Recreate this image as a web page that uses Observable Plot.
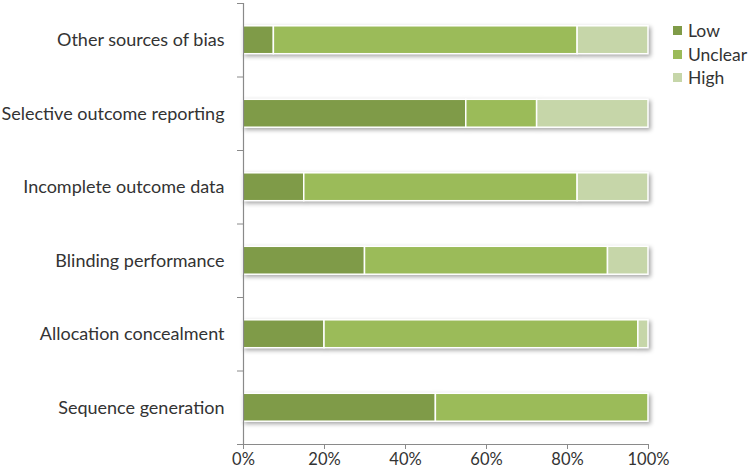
<!DOCTYPE html>
<html>
<head>
<meta charset="utf-8">
<script src="https://cdn.jsdelivr.net/npm/d3@7"></script>
<script src="https://cdn.jsdelivr.net/npm/@observablehq/plot@0.6"></script>
<style>
  body { margin: 0; background: #fff; }
  #wrap { position: relative; width: 750px; height: 473px; font-family: Lato, "Open Sans", sans-serif; }
  #legend { position: absolute; left: 673px; top: 19px; font-size: 17.5px; color: #333; line-height: 23.5px; }
  #legend .row { display: flex; align-items: center; }
  #legend .sw { width: 9px; height: 9px; margin-right: 6px; }
</style>
</head>
<body>
<div id="wrap"><div id="legend"></div></div>
<script>
const categories = ["Other sources of bias", "Selective outcome reporting", "Incomplete outcome data", "Blinding performance", "Allocation concealment", "Sequence generation"];
const risks = ["Low", "Unclear", "High"];
const low = [7.5, 55, 15, 30, 20, 47.5];
const unclear = [75, 17.5, 67.5, 60, 77.5, 52.5];
const high = [17.5, 27.5, 17.5, 10, 2.5, 0];
const xTicks = [0, 20, 40, 60, 80, 100];
const colors = ["#7f9b48", "#9bbb59", "#c6d6a9"];
const grey = "#8a8a8a";

const series = [low, unclear, high];
const rows = [];
categories.forEach((c, i) => {
  let acc = 0;
  risks.forEach((r, k) => {
    const v = series[k][i];
    rows.push({category: c, idx: i, risk: r, x1: acc, x2: acc + v});
    acc += v;
  });
});

const pad = 0.31;
const chart = Plot.plot({
  width: 750,
  height: 473,
  marginLeft: 243,
  marginRight: 102,
  marginTop: 3,
  marginBottom: 29,
  style: {fontFamily: "Lato, 'Open Sans', sans-serif", fontSize: "16.5px", color: "#333", background: "#fff"},
  x: {domain: [0, 100]},
  y: {domain: [0, categories.length], reverse: true},
  color: {domain: risks, range: colors},
  marks: [
    Plot.rect(rows.filter(d => d.x2 > d.x1), {
      x1: "x1", x2: "x2",
      y1: d => d.idx + pad, y2: d => d.idx + 1 - pad,
      fill: "risk", stroke: "#fff", strokeWidth: 1.5
    }),
    Plot.ruleX([0], {stroke: grey, strokeWidth: 1.2}),
    Plot.ruleY([categories.length], {stroke: grey, strokeWidth: 1.2}),
    Plot.axisY({ticks: d3.range(categories.length + 1), tickSize: 6, tickFormat: () => "", stroke: grey, label: null}),
    Plot.axisY({ticks: categories.map((_, i) => i + 0.5), tickSize: 0, tickPadding: 19, tickFormat: d => categories[Math.floor(d)], label: null, fill: "#333", fontSize: 18}),
    Plot.axisX({ticks: xTicks, tickSize: 5, tickPadding: 4, tickFormat: d => d + "%", stroke: grey, label: null, fill: "#333"})
  ]
});
document.getElementById("wrap").prepend(chart);
const rg = chart.querySelector('g[aria-label="rect"]');
if (rg) rg.style.filter = "drop-shadow(2px 2px 2px rgba(0,0,0,0.35))";

const legend = document.getElementById("legend");
risks.forEach((r, k) => {
  const row = document.createElement("div");
  row.className = "row";
  row.innerHTML = `<span class="sw" style="background:${colors[k]}"></span><span>${r}</span>`;
  legend.appendChild(row);
});
</script>
</body>
</html>
